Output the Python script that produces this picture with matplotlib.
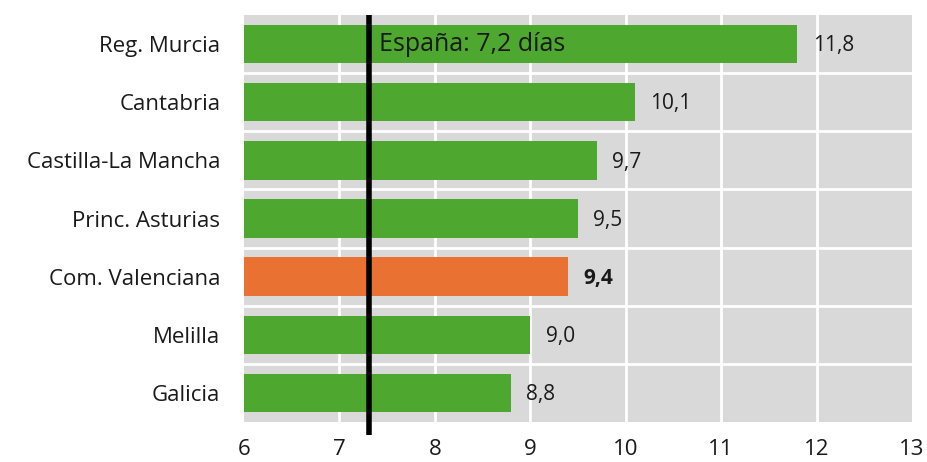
import matplotlib.pyplot as plt

regiones = ["Reg. Murcia", "Cantabria", "Castilla-La Mancha", "Princ. Asturias",
            "Com. Valenciana", "Melilla", "Galicia"]
dias = [11.8, 10.1, 9.7, 9.5, 9.4, 9.0, 8.8]
etiquetas = ["11,8", "10,1", "9,7", "9,5", "9,4", "9,0", "8,8"]
destacada = "Com. Valenciana"
espana_texto = "España: 7,2 días"
espana_linea = 7.31
xticks = [6, 7, 8, 9, 10, 11, 12, 13]

verde = "#4EA72E"
naranja = "#E97132"

plt.rcParams['font.family'] = ['Open Sans', 'DejaVu Sans']

fig = plt.figure(figsize=(9.28, 4.62), dpi=100)
ax = fig.add_axes([244/928, 40/462, 668/928, 407/462])
ax.set_facecolor("#D9D9D9")

y = list(range(len(regiones)))
colores = [naranja if r == destacada else verde for r in regiones]
ax.barh(y, [d - 6 for d in dias], left=6, height=0.66, color=colores, zorder=3)

for xi in xticks[1:-1]:
    ax.axvline(xi, color="white", lw=2, zorder=1)
for yi in y[:-1]:
    ax.axhline(yi + 0.5, color="white", lw=2, zorder=1)

for yi, d, t, r in zip(y, dias, etiquetas, regiones):
    ax.text(d + 0.16, yi + 0.03, t, va="center", ha="left", fontsize=15,
            color="#1a1a1a", fontweight="bold" if r == destacada else "normal",
            zorder=4)

ax.plot([espana_linea, espana_linea], [-0.5, 6.72], color="black", lw=4,
        zorder=5, clip_on=False, solid_capstyle="butt")
ax.text(espana_linea + 0.1, 0, espana_texto, va="center", ha="left",
        fontsize=18, color="#1a1a1a", zorder=6)

ax.set_xlim(6, 13)
ax.set_ylim(6.5, -0.5)
ax.set_xticks(xticks)
ax.set_yticks(y)
ax.set_yticklabels(regiones)
ax.tick_params(axis="both", length=0, labelsize=16, colors="#1a1a1a")
ax.tick_params(axis="y", pad=17)
ax.tick_params(axis="x", pad=12)
for s in ax.spines.values():
    s.set_visible(False)

fig.savefig("out.png", dpi=100)
